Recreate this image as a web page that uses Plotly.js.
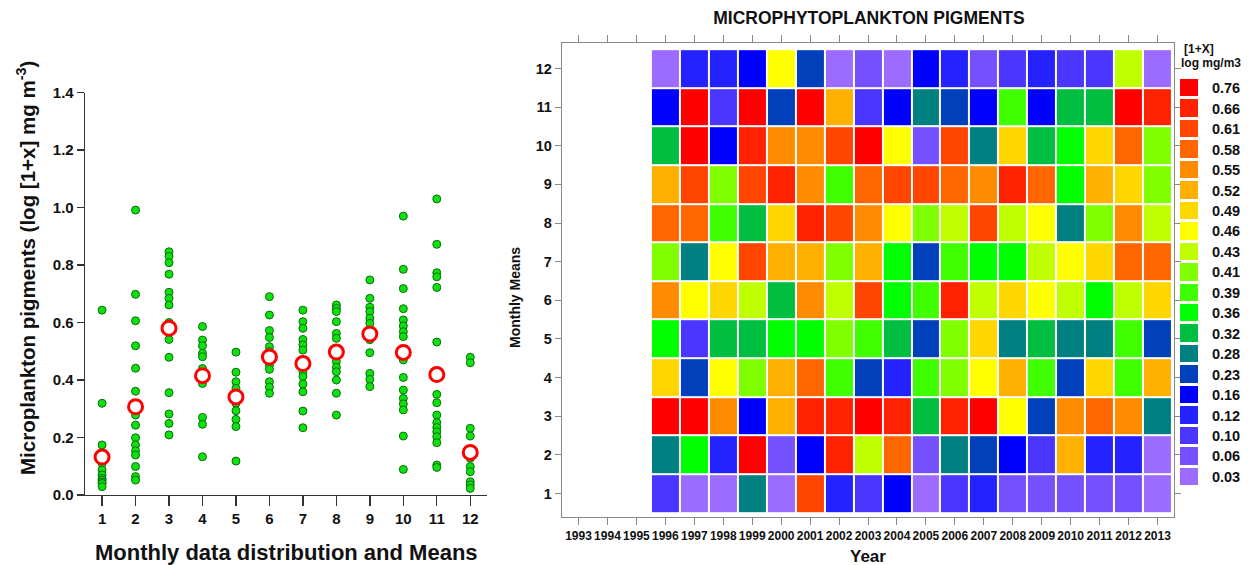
<!DOCTYPE html>
<html>
<head>
<meta charset="utf-8">
<script src="https://cdn.plot.ly/plotly-3.0.1.min.js"></script>
<style>html,body{margin:0;padding:0;background:#fff;}#chart{width:1252px;height:565px;}</style>
</head>
<body>
<div id="chart"></div>
<script>
// ---------- Left panel: monthly distribution ----------
const months = [1,2,3,4,5,6,7,8,9,10,11,12];
const m01 = [0.643,0.319,0.174,0.140,0.110,0.087,0.070,0.058,0.052,0.045,0.040,0.029];
const m02 = [0.991,0.698,0.606,0.519,0.441,0.361,0.300,0.278,0.243,0.199,0.174,0.154,0.139,0.099,0.064,0.052];
const m03 = [0.846,0.830,0.808,0.768,0.705,0.684,0.661,0.600,0.541,0.479,0.356,0.282,0.249,0.209];
const m04 = [0.586,0.539,0.519,0.493,0.481,0.440,0.400,0.388,0.270,0.246,0.133];
const m05 = [0.497,0.427,0.394,0.371,0.350,0.319,0.293,0.263,0.238,0.118];
const m06 = [0.690,0.626,0.572,0.548,0.516,0.499,0.470,0.452,0.437,0.394,0.375,0.354];
const m07 = [0.643,0.603,0.580,0.541,0.522,0.504,0.470,0.429,0.412,0.386,0.359,0.292,0.234];
const m08 = [0.661,0.649,0.638,0.603,0.562,0.545,0.480,0.464,0.444,0.429,0.400,0.354,0.278];
const m09 = [0.748,0.684,0.653,0.638,0.615,0.597,0.540,0.495,0.423,0.402,0.377];
const m10 = [0.970,0.785,0.718,0.648,0.609,0.588,0.568,0.551,0.470,0.409,0.365,0.336,0.317,0.296,0.205,0.089];
const m11 = [1.030,0.872,0.773,0.759,0.722,0.532,0.350,0.321,0.278,0.252,0.235,0.220,0.203,0.182,0.104,0.096];
const m12 = [0.479,0.460,0.232,0.205,0.128,0.099,0.081,0.046,0.035,0.023];
const monthlyMeans = [0.132,0.307,0.580,0.415,0.341,0.480,0.457,0.497,0.560,0.496,0.419,0.148];

// ---------- Right panel: heatmap (rows = months 1..12, cols = years 1996..2013) ----------
const years = [1996,1997,1998,1999,2000,2001,2002,2003,2004,2005,2006,2007,2008,2009,2010,2011,2012,2013];
const yearTicks = [1993,1994,1995,1996,1997,1998,1999,2000,2001,2002,2003,2004,2005,2006,2007,2008,2009,2010,2011,2012,2013];
const hJan = [0.10,0.03,0.03,0.28,0.03,0.61,0.12,0.10,0.16,0.03,0.10,0.12,0.06,0.06,0.06,0.06,0.06,0.03];
const hFeb = [0.28,0.36,0.12,0.76,0.06,0.16,0.66,0.43,0.58,0.06,0.28,0.23,0.16,0.10,0.52,0.12,0.12,0.03];
const hMar = [0.76,0.76,0.55,0.16,0.52,0.66,0.66,0.76,0.66,0.32,0.66,0.76,0.46,0.23,0.55,0.58,0.55,0.28];
const hApr = [0.49,0.23,0.46,0.41,0.52,0.58,0.39,0.23,0.12,0.39,0.41,0.46,0.52,0.39,0.23,0.49,0.39,0.52];
const hMay = [0.36,0.10,0.32,0.32,0.36,0.36,0.41,0.39,0.32,0.23,0.41,0.49,0.28,0.32,0.28,0.28,0.39,0.23];
const hJun = [0.55,0.46,0.49,0.43,0.32,0.55,0.43,0.61,0.36,0.39,0.66,0.43,0.49,0.46,0.43,0.36,0.43,0.49];
const hJul = [0.41,0.28,0.46,0.61,0.52,0.52,0.41,0.52,0.36,0.23,0.39,0.36,0.36,0.43,0.46,0.49,0.58,0.58];
const hAug = [0.58,0.58,0.39,0.32,0.49,0.66,0.61,0.55,0.46,0.41,0.43,0.61,0.43,0.46,0.28,0.41,0.55,0.43];
const hSep = [0.52,0.61,0.41,0.61,0.66,0.55,0.39,0.58,0.61,0.61,0.58,0.55,0.66,0.58,0.36,0.52,0.49,0.41];
const hOct = [0.32,0.76,0.16,0.66,0.55,0.55,0.61,0.76,0.46,0.06,0.61,0.28,0.49,0.32,0.36,0.49,0.58,0.41];
const hNov = [0.16,0.76,0.10,0.76,0.23,0.76,0.52,0.10,0.16,0.28,0.23,0.16,0.39,0.16,0.32,0.32,0.76,0.66];
const hDec = [0.03,0.12,0.12,0.16,0.46,0.23,0.03,0.06,0.03,0.16,0.12,0.06,0.10,0.12,0.10,0.10,0.43,0.03];

// ---------- Legend classes ----------
const levels = [0.03,0.06,0.10,0.12,0.16,0.23,0.28,0.32,0.36,0.39,0.41,0.43,0.46,0.49,0.52,0.55,0.58,0.61,0.66,0.76];
const levelLabels = ["0.03","0.06","0.10","0.12","0.16","0.23","0.28","0.32","0.36","0.39","0.41","0.43","0.46","0.49","0.52","0.55","0.58","0.61","0.66","0.76"];
const levelColors = ["#9c6bff","#7550ff","#4b36ff","#2422ff","#0000ff","#0041bb","#008080","#00bf40","#00ff00","#40ff00","#80ff00","#c0ff00","#ffff00","#ffd700","#ffb000","#ff8c00","#ff6600","#ff4500","#ff2200","#ff0000"];

const FONT = "Liberation Sans, Arial, Helvetica, sans-serif";
const lo = levels[0], hi = levels[levels.length-1];
const colorscale = levels.map((v,i)=>[(v-lo)/(hi-lo), levelColors[i]]);

const monthPoints = [m01,m02,m03,m04,m05,m06,m07,m08,m09,m10,m11,m12];
const px = [], py = [];
monthPoints.forEach((arr,i)=>arr.forEach(v=>{px.push(months[i]); py.push(v);}));

const traces = [
  {type:'scatter', mode:'markers', x:px, y:py, xaxis:'x', yaxis:'y', cliponaxis:false,
   marker:{size:8, color:'#0fe00f', line:{color:'#0b6e0b', width:1}}, hoverinfo:'y'},
  {type:'scatter', mode:'markers', x:months, y:monthlyMeans, xaxis:'x', yaxis:'y', cliponaxis:false,
   marker:{size:14, color:'#ffffff', line:{color:'#ff0000', width:3}}, hoverinfo:'y'},
  {type:'heatmap', x:years, y:months,
   z:[hJan,hFeb,hMar,hApr,hMay,hJun,hJul,hAug,hSep,hOct,hNov,hDec],
   xaxis:'x2', yaxis:'y2', colorscale:colorscale, zmin:lo, zmax:hi, showscale:false, xgap:2, ygap:2},
  {type:'heatmap', x:[0], y:levels.map((v,i)=>i), z:levels.map(v=>[v]),
   xaxis:'x3', yaxis:'y3', colorscale:colorscale, zmin:lo, zmax:hi, showscale:false, ygap:3}
];

const tickFont = {family:FONT, size:15, color:'#111', weight:'bold'};
const layout = {
  width:1252, height:565, margin:{l:0,r:0,t:0,b:0}, paper_bgcolor:'#fff', plot_bgcolor:'#fff',
  showlegend:false, font:{family:FONT},
  title:{text:'MICROPHYTOPLANKTON PIGMENTS', x:869/1252, y:1-18/565, xanchor:'center', yanchor:'middle',
         font:{family:FONT, size:17.5, color:'#111', weight:'bold'}},
  xaxis:{domain:[85/1252, 487/1252], range:[0.49,12.5], tickvals:months, showgrid:false, zeroline:false,
         showline:true, linecolor:'#333', linewidth:1.3, ticks:'outside', ticklen:10, tickcolor:'#333', tickwidth:1.3,
         tickfont:tickFont, anchor:'y'},
  yaxis:{domain:[1-495/565, 1-92.5/565], range:[0,1.4], tickvals:[0,0.2,0.4,0.6,0.8,1.0,1.2,1.4],
         tickformat:'.1f', showgrid:false, zeroline:false, showline:true, linecolor:'#333', linewidth:1.3,
         ticks:'outside', ticklen:7, tickcolor:'#333', tickwidth:1.3, tickfont:tickFont, anchor:'x'},
  xaxis2:{domain:[562/1252, 1174/1252], range:[1992.43,2013.57], tickvals:yearTicks, showgrid:false, zeroline:false,
          showline:true, mirror:'ticks', linecolor:'#888', linewidth:1.3, ticks:'outside', ticklen:7, tickcolor:'#888',
          tickangle:0, tickfont:{family:FONT, size:12, color:'#111', weight:'bold'}, anchor:'y2'},
  yaxis2:{domain:[1-517/565, 1-43/565], range:[0.392,12.66], tickvals:months, showgrid:false, zeroline:false,
          showline:true, mirror:'ticks', linecolor:'#888', linewidth:1.3, ticks:'outside', ticklen:6, tickcolor:'#888',
          tickfont:{family:FONT, size:14.5, color:'#111', weight:'bold'}, anchor:'x2'},
  xaxis3:{domain:[1180/1252, 1198/1252], range:[-0.5,0.5], visible:false, anchor:'y3'},
  yaxis3:{domain:[1-487/565, 1-78/565], range:[-0.5,19.5], side:'right', anchor:'x3', showgrid:false, zeroline:false,
          showline:false, tickvals:levels.map((v,i)=>i), ticktext:levelLabels, ticks:'outside', ticklen:10,
          tickcolor:'rgba(0,0,0,0)', tickfont:{family:FONT, size:14.5, color:'#111', weight:'bold'}},
  annotations:[
    {text:'Monthly data distribution and Means', xref:'paper', yref:'paper', x:286/1252, y:1-552/565,
     xanchor:'center', yanchor:'middle', showarrow:false, font:{family:FONT, size:22, color:'#111', weight:'bold'}},
    {text:'Microplankton pigments (log [1+x] mg m<sup>-3</sup>)', xref:'paper', yref:'paper', x:26/1252, y:1-268/565,
     xanchor:'center', yanchor:'middle', textangle:-90, showarrow:false, font:{family:FONT, size:20.5, color:'#111', weight:'bold'}},
    {text:'Monthly Means', xref:'paper', yref:'paper', x:515/1252, y:1-298/565, xanchor:'center', yanchor:'middle',
     textangle:-90, showarrow:false, font:{family:FONT, size:14, color:'#111', weight:'bold'}},
    {text:'Year', xref:'paper', yref:'paper', x:868/1252, y:1-556/565, xanchor:'center', yanchor:'middle',
     showarrow:false, font:{family:FONT, size:17, color:'#111', weight:'bold'}},
    {text:'[1+X]', xref:'paper', yref:'paper', x:1182/1252, y:1-49/565, xanchor:'left', yanchor:'middle',
     showarrow:false, font:{family:FONT, size:12, color:'#111', weight:'bold'}},
    {text:'log mg/m3', xref:'paper', yref:'paper', x:1179/1252, y:1-63/565, xanchor:'left', yanchor:'middle',
     showarrow:false, font:{family:FONT, size:12, color:'#111', weight:'bold'}}
  ]
};

Plotly.newPlot('chart', traces, layout, {displayModeBar:false, staticPlot:true});
</script>
</body>
</html>
